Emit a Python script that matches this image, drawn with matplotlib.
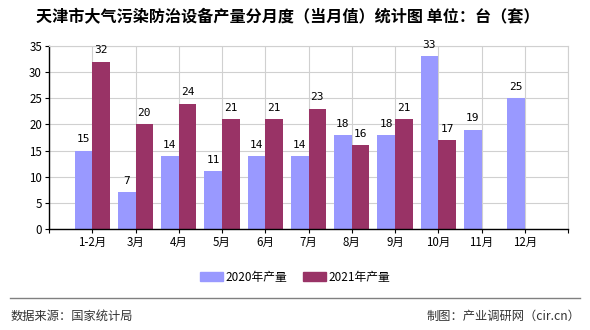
import numpy as np
import matplotlib
matplotlib.use("Agg")
import matplotlib.pyplot as plt
from matplotlib.patches import Patch

plt.rcParams['font.family'] = ['Noto Sans CJK SC', 'DejaVu Sans']

months = ["1-2月", "3月", "4月", "5月", "6月", "7月", "8月", "9月", "10月", "11月", "12月"]
output_2020 = [15, 7, 14, 11, 14, 14, 18, 18, 33, 19, 25]
output_2021 = [32, 20, 24, 21, 21, 23, 16, 21, 17, None, None]

BLUE = "#9999FF"
RED = "#993366"
GRID = "#D0D0D0"

fig = plt.figure(figsize=(5.9, 3.3), dpi=100)
ax = fig.add_axes([49 / 590, 1 - 229 / 330, (568 - 49) / 590, (229 - 46) / 330])

x = np.arange(len(months))
w = 0.41
for i, (a, b) in enumerate(zip(output_2020, output_2021)):
    ax.bar(x[i] - w / 2, a, width=w, color=BLUE, zorder=2)
    ax.text(x[i] - w / 2, a + 1.2, str(a), ha="center", va="bottom", fontsize=8,
            family="DejaVu Sans Mono")
    if b is not None:
        ax.bar(x[i] + w / 2, b, width=w, color=RED, zorder=2)
        ax.text(x[i] + w / 2, b + 1.2, str(b), ha="center", va="bottom", fontsize=8,
                family="DejaVu Sans Mono")

ax.set_xlim(-1, len(months))
ax.set_ylim(0, 35)
ax.set_yticks(range(0, 36, 5))
ax.set_xticks(np.arange(-1, len(months) + 1))
ax.set_xticklabels([""] + months + [""])
ax.tick_params(axis="both", labelsize=8.3, length=3, width=0.8, color="black", pad=2)
ax.grid(True, color=GRID, linewidth=0.8, zorder=0)
ax.set_axisbelow(True)
for s in ["top", "right"]:
    ax.spines[s].set_color(GRID)
for s in ["left", "bottom"]:
    ax.spines[s].set_color("black")
    ax.spines[s].set_linewidth(1.0)

fig.text(0.487, 1 - 17 / 330, "天津市大气污染防治设备产量分月度（当月值）统计图 单位：台（套）",
         ha="center", va="center", fontsize=11.6, fontweight="bold")

handles = [Patch(color=BLUE, label="2020年产量"), Patch(color=RED, label="2021年产量")]
fig.legend(handles=handles, loc="center", bbox_to_anchor=(0.5, 1 - 277 / 330), ncol=2,
           frameon=False, fontsize=8.5, handlelength=1.9, handleheight=0.7,
           columnspacing=1.4, handletextpad=0.2)

fig.add_artist(plt.Line2D([10 / 590, 580 / 590], [1 - 298 / 330] * 2,
                          color="#808080", linewidth=1.0))
fig.text(11 / 590, 1 - 316 / 330, "数据来源：国家统计局", ha="left", va="center",
         fontsize=8.8, color="#333333")
fig.text(580 / 590, 1 - 316 / 330, "制图：产业调研网（cir.cn）", ha="right", va="center",
         fontsize=8.8, color="#333333")

fig.savefig("out.png", dpi=100)
